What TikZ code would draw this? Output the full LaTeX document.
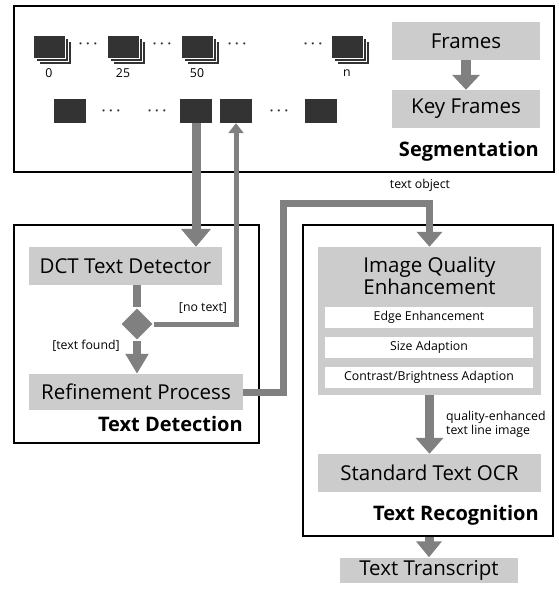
\documentclass[tikz,border=0pt]{standalone}
\usepackage{fontspec}
\setmainfont{Open Sans}
\usetikzlibrary{arrows.meta,shapes.geometric,calc}
\definecolor{boxgray}{HTML}{CCCCCC}
\definecolor{arrgray}{HTML}{808080}
\definecolor{dark}{HTML}{333333}
\tikzset{
  panel/.style={draw=black, line width=1.5pt, fill=white, inner sep=0},
  graybox/.style={fill=boxgray, inner sep=0, font=\fontsize{20.5}{22}\selectfont},
  subbox/.style={fill=white, inner sep=0, minimum width=208pt, minimum height=21pt, font=\fontsize{12.3}{14}\selectfont},
  frontframe/.style={fill=dark, draw=white, line width=0.8pt, minimum width=32pt, minimum height=23pt, inner sep=0},
  keyframe/.style={fill=dark, minimum width=32pt, minimum height=24pt, inner sep=0},
  dotsnode/.style={font=\fontsize{15}{15}\selectfont\boldmath, text=dark, inner sep=0},
  small/.style={font=\fontsize{12.3}{14}\selectfont, inner sep=0},
  paneltitle/.style={font=\fontsize{20}{22}\selectfont\bfseries, inner sep=0, anchor=east},
  bigarrow/.style={draw=arrgray, line width=9pt, -{Triangle[width=27pt,length=16pt]}},
  thinarrow/.style={draw=arrgray, line width=5pt, -{Triangle[width=15pt,length=10pt]}},
  midarrow/.style={draw=arrgray, line width=7pt, line join=miter, -{Triangle[width=25pt,length=15pt]}},
}
\newcommand{\framestack}[2]{%
  \node[frontframe] at ($(#1)+(6pt,-6pt)$) {};
  \node[frontframe] at ($(#1)+(3pt,-3pt)$) {};
  \node[frontframe] (#2) at (#1) {};
}
\begin{document}
\begin{tikzpicture}[x=1pt,y=-1pt]
\useasboundingbox (0,0) rectangle (558,592);

% Panels
\node[panel, minimum width=540pt, minimum height=166pt] (seg) at (284,89) {};
\node[panel, minimum width=245pt, minimum height=218pt] (det) at (136.5,334) {};
\node[panel, minimum width=250pt, minimum height=311pt] (rec) at (428,380.5) {};

% Segmentation content
\framestack{49,46.5}{f0}
\framestack{123,46.5}{f25}
\framestack{197.5,46.5}{f50}
\framestack{347.5,46.5}{fn}
\node[dotsnode] (d1) at (88,44) {$\cdots$};
\node[dotsnode] (d2) at (162,44) {$\cdots$};
\node[dotsnode] (d3) at (237,44) {$\cdots$};
\node[dotsnode] (d4) at (313,44) {$\cdots$};
\node[small] (l0) at (49,73) {0};
\node[small] (l25) at (123,73) {25};
\node[small] (l50) at (197,73) {50};
\node[small] (ln) at (347,73) {n};

\node[keyframe] (k1) at (70,111) {};
\node[dotsnode] (d5) at (111,111) {$\cdots$};
\node[dotsnode] (d6) at (157,111) {$\cdots$};
\node[keyframe] (k4) at (196,111) {};
\node[keyframe] (k5) at (236,111) {};
\node[dotsnode] (d7) at (279,111) {$\cdots$};
\node[keyframe] (kn) at (321,111) {};

\node[graybox, minimum width=148pt, minimum height=38pt] (frames) at (466,41) {Frames};
\node[graybox, minimum width=148pt, minimum height=38pt] (keyframes) at (466,109) {Key Frames};
\draw[draw=arrgray, line width=10pt, -{Triangle[width=27pt,length=15pt]}] (frames.south) -- (keyframes.north);
\node[paneltitle] (segt) at (539,151) {Segmentation};

\node[small] (textobj) at (420,185) {text object};

% Text detection
\node[graybox, minimum width=193pt, minimum height=38pt] (dct) at (125.5,266) {DCT Text Detector};
\node[graybox, minimum width=214pt, minimum height=36pt] (refine) at (136,392) {Refinement Process};
\node[diamond, fill=arrgray, draw=white, line width=1pt, minimum width=33pt, minimum height=33pt, inner sep=0] (dia) at (137,324) {};
\draw[draw=arrgray, line width=8pt] (dct.south -| dia.north) -- (dia.north);
\draw[draw=arrgray, line width=8pt, -{Triangle[width=22pt,length=20pt]}] (dia.south) -- (dia.south |- refine.north);
\node[small] (notext) at (203,308) {[no text]};
\node[small] (found) at (86,346) {[text found]};
\node[paneltitle] (dett) at (243,424) {Text Detection};

% Text recognition
\node[graybox, minimum width=223pt, minimum height=148pt] (iqe) at (429.5,321) {};
\node[graybox, align=center, anchor=north, font=\fontsize{20.5}{19}\selectfont] (iqet) at (429.5,257) {Image Quality\\Enhancement};
\node[subbox] (edge) at (429,317) {Edge Enhancement};
\node[subbox] (size) at (429,347.5) {Size Adaption};
\node[subbox] (contrast) at (429,377.5) {Contrast/Brightness Adaption};
\node[graybox, minimum width=223pt, minimum height=38pt] (ocr) at (429.5,473) {Standard Text OCR};
\node[small, align=left, anchor=west] (qe) at (446,424) {quality-enhanced\\text line image};
\node[paneltitle] (rect) at (539,515) {Text Recognition};
\node[graybox, minimum width=178pt, minimum height=25pt] (transcript) at (429,570) {Text Transcript};

% Connectors
\draw[bigarrow, -{Triangle[width=29pt,length=18pt]}] (k4.south) -- (k4.south |- dct.north);
\draw[thinarrow] (dia.east) -| (k5.south);
\coordinate (c1) at (283,203);
\draw[midarrow] (refine.east) -- (refine.east -| c1) -- (c1) -- (c1 -| iqe.north) -- (iqe.north);
\draw[bigarrow] (iqe.south) -- (ocr.north);
\draw[bigarrow, -{Triangle[width=25pt,length=16pt]}] (rec.south -| transcript.north) -- (transcript.north);
\end{tikzpicture}
\end{document}
